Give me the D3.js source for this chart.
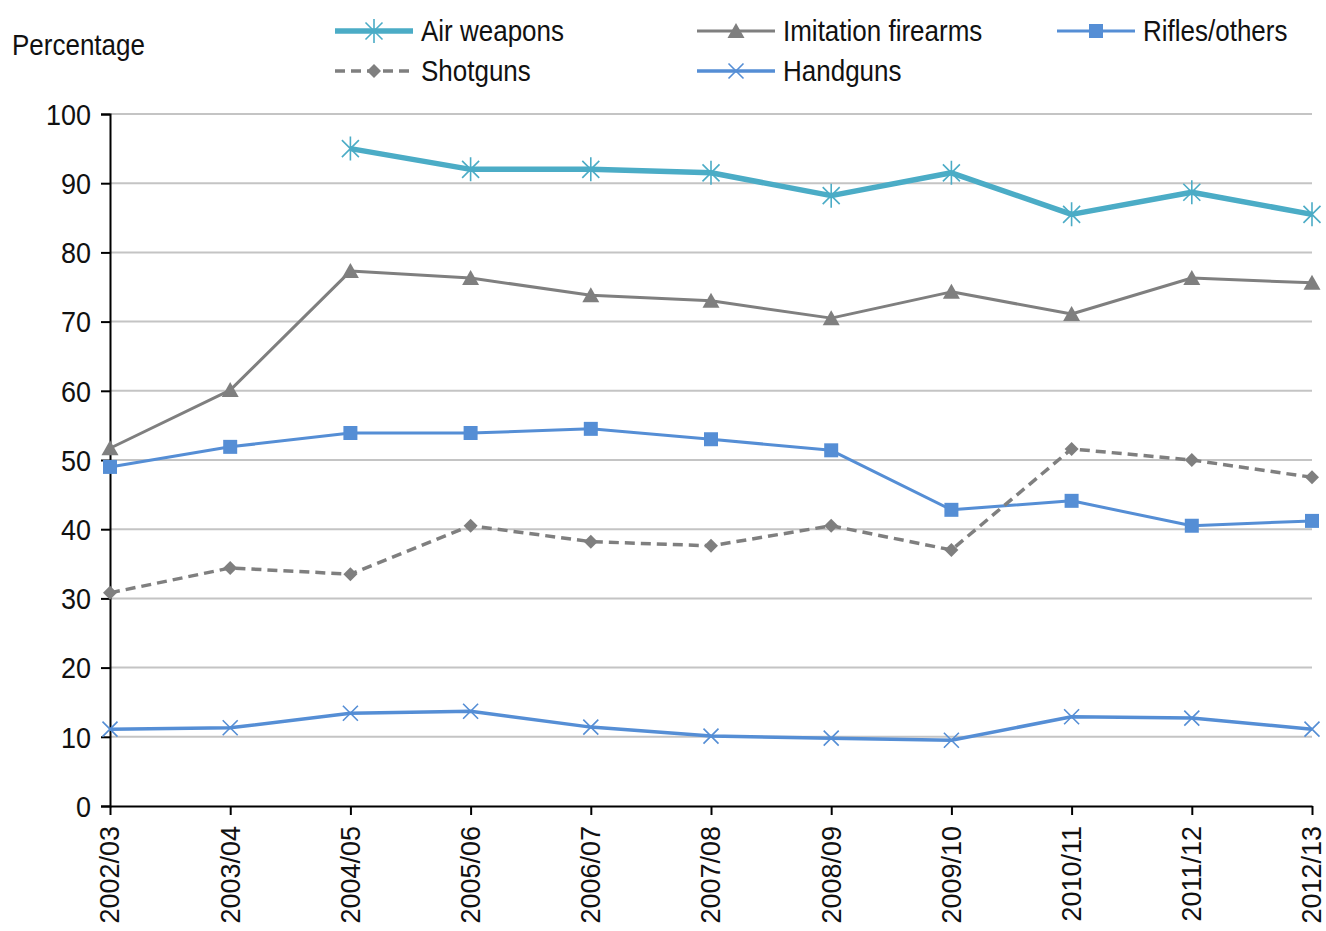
<!DOCTYPE html>
<html><head><meta charset="utf-8">
<script src="https://cdn.jsdelivr.net/npm/d3@7"></script>
<style>body{margin:0;background:#fff;} text{font-family:"Liberation Sans",Arial,sans-serif;}</style>
</head><body>
<svg id="c" width="1326" height="931"></svg>
<script>
const categories = ["2002/03","2003/04","2004/05","2005/06","2006/07","2007/08","2008/09","2009/10","2010/11","2011/12","2012/13"];
const airWeapons = [null,null,95,92,92,91.5,88.2,91.5,85.5,88.7,85.5];
const imitationFirearms = [51.7,60.1,77.3,76.3,73.8,73.0,70.5,74.3,71.1,76.3,75.6];
const riflesOthers = [49.0,51.9,53.9,53.9,54.5,53.0,51.4,42.8,44.1,40.5,41.2];
const shotguns = [30.8,34.4,33.5,40.5,38.2,37.6,40.5,37.0,51.6,50.0,47.5];
const handguns = [11.1,11.3,13.4,13.7,11.4,10.1,9.8,9.5,12.9,12.7,11.1];
const yTicks = [0,10,20,30,40,50,60,70,80,90,100];

const series = [
  {name:"Air weapons", values:airWeapons, color:"#4BACC6", width:5.5, dash:null, marker:"star"},
  {name:"Imitation firearms", values:imitationFirearms, color:"#7F7F7F", width:3, dash:null, marker:"triangle"},
  {name:"Rifles/others", values:riflesOthers, color:"#558ED5", width:3, dash:null, marker:"square"},
  {name:"Shotguns", values:shotguns, color:"#7F7F7F", width:3.5, dash:"10,6", marker:"diamond"},
  {name:"Handguns", values:handguns, color:"#558ED5", width:3.5, dash:null, marker:"x"}
];

const SY = 1.12; // vertical stretch of glyphs
const svg = d3.select("#c");
const x = d3.scalePoint().domain(categories).range([110,1312]);
const y = d3.scaleLinear().domain([0,100]).range([806,114]);

// gridlines
svg.append("g").selectAll("line").data(yTicks.filter(d=>d>0)).join("line")
  .attr("x1",110).attr("x2",1312).attr("y1",d=>y(d)).attr("y2",d=>y(d))
  .attr("stroke","#C4C4C4").attr("stroke-width",2);

// y axis
const ya = svg.append("g").attr("transform","translate(110,0)")
  .call(d3.axisLeft(y).tickValues(yTicks).tickSize(9).tickPadding(10));
ya.select(".domain").attr("stroke","#000").attr("stroke-width",2);
ya.selectAll(".tick line").attr("stroke","#000").attr("stroke-width",2);
ya.selectAll(".tick text").attr("font-size",27).attr("fill","#111")
  .attr("font-family","Liberation Sans, Arial, sans-serif")
  .attr("transform",`scale(1,${SY})`).attr("dy","0.34em");

// x axis
const xa = svg.append("g").attr("transform","translate(0,806)")
  .call(d3.axisBottom(x).tickSize(9).tickSizeOuter(0));
xa.select(".domain").attr("stroke","#000").attr("stroke-width",2);
xa.selectAll(".tick line").attr("stroke","#000").attr("stroke-width",2);
xa.selectAll(".tick text").attr("font-size",27).attr("fill","#111")
  .attr("font-family","Liberation Sans, Arial, sans-serif")
  .attr("transform","rotate(-90)").attr("text-anchor","end")
  .attr("x",-20).attr("y",0).attr("dy","0.33em");

function markerPath(type){
  const p = d3.path();
  if(type==="star"){
    const r=12, d=8.5;
    p.moveTo(0,-r);p.lineTo(0,r);
    p.moveTo(-d,-d);p.lineTo(d,d);p.moveTo(d,-d);p.lineTo(-d,d);
    return p.toString();
  }
  if(type==="x"){ const r=7.5; p.moveTo(-r,-r);p.lineTo(r,r);p.moveTo(r,-r);p.lineTo(-r,r); return p.toString(); }
  if(type==="triangle"){ p.moveTo(0,-8);p.lineTo(8.5,7);p.lineTo(-8.5,7);p.closePath(); return p.toString(); }
  if(type==="square"){ p.rect(-7,-7,14,14); return p.toString(); }
  if(type==="diamond"){ p.moveTo(0,-7);p.lineTo(7,0);p.lineTo(0,7);p.lineTo(-7,0);p.closePath(); return p.toString(); }
}
function drawMarker(g, s){
  const filled = s.marker==="triangle"||s.marker==="square"||s.marker==="diamond";
  g.append("path").attr("d",markerPath(s.marker))
    .attr("fill",filled?s.color:"none")
    .attr("stroke",s.color).attr("stroke-width",filled?0:1.6);
}

const line = d3.line().defined(d=>d.v!=null).x(d=>x(d.c)).y(d=>y(d.v));
series.forEach(s=>{
  const data = categories.map((c,i)=>({c, v:s.values[i]}));
  svg.append("path").datum(data).attr("d",line).attr("fill","none")
    .attr("stroke",s.color).attr("stroke-width",s.width)
    .attr("stroke-dasharray",s.dash).attr("stroke-linejoin","round");
  data.filter(d=>d.v!=null).forEach(d=>{
    const g = svg.append("g").attr("transform",`translate(${x(d.c)},${y(d.v)})`);
    drawMarker(g,s);
  });
});

// legend
const legendPos = [[335,31],[697,31],[1057,31],[335,71],[697,71]];
series.forEach((s,i)=>{
  const [lx,ly]=legendPos[i];
  const g = svg.append("g").attr("transform",`translate(${lx},${ly})`);
  g.append("line").attr("x1",0).attr("x2",78).attr("y1",0).attr("y2",0)
    .attr("stroke",s.color).attr("stroke-width",s.width).attr("stroke-dasharray",s.dash);
  const m = g.append("g").attr("transform","translate(39,0)");
  drawMarker(m,s);
  g.append("text").attr("transform",`translate(86,0) scale(1,${SY})`).attr("dy","0.35em")
    .attr("font-size",26).attr("fill","#111").text(s.name);
});

svg.append("text").attr("transform",`translate(12,45) scale(1,${SY})`).attr("dy","0.35em")
  .attr("font-size",26).attr("fill","#111").text("Percentage");
</script>
</body></html>
